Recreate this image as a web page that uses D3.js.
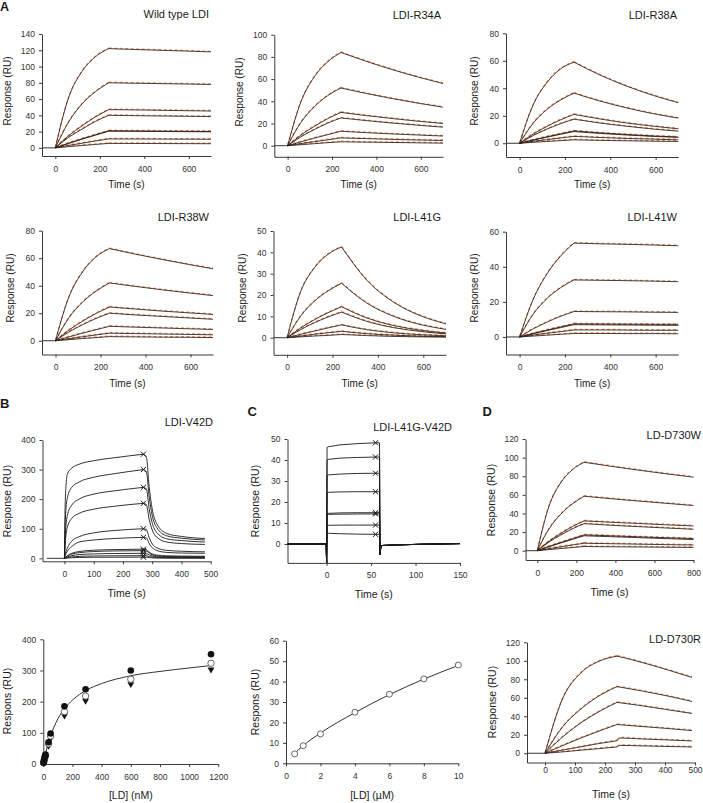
<!DOCTYPE html>
<html>
<head>
<meta charset="utf-8">
<script src="https://cdn.jsdelivr.net/npm/d3@7"></script>
<style>
  body { margin: 0; background: #fff; }
</style>
</head>
<body>
<svg id="fig" width="703" height="803"></svg>
<script>
// ---------- data ----------
// sensorgram time points (s); association up to index `split`, dissociation after
const timeA = [0, 60, 120, 180, 240, 350, 470, 590, 700];
const timeD730W = [0, 60, 120, 180, 240, 380, 520, 660, 800];
const timeD730R = [0, 60, 120, 180, 240, 250, 320, 400, 490];
const timeV42D = [0, 3, 10, 25, 50, 100, 170, 270, 280, 290, 300, 315, 350, 400, 480];
const timeL41GV42D = [-44, -0.5, 0, 0.5, 2, 15, 35, 55, 59.5, 60, 61, 63, 80, 110, 150];

// responses (RU), one row per LD concentration
const wtLDI = [
  [0, 62, 94, 112, 122, 121, 120, 119, 118],
  [0, 32, 54, 69, 80, 79.5, 79, 78.5, 78],
  [0, 15, 27, 38, 47, 46.7, 46.2, 45.7, 45.3],
  [0, 13, 23, 32.5, 40, 39.6, 39.2, 38.8, 38.5],
  [0, 5.7, 11, 16, 21, 20.8, 20.6, 20.4, 20.2],
  [0, 5.5, 10.7, 15.6, 20.5, 20.3, 20.1, 19.9, 19.7],
  [0, 3, 5.7, 8.4, 11, 10.9, 10.8, 10.7, 10.6],
  [0, 1.5, 2.9, 4.2, 5.5, 5.4, 5.3, 5.2, 5.1]
];
const ldiR34A = [
  [0, 39.5, 62, 75.5, 84, 76.3, 68.6, 61.7, 56],
  [0, 21, 35, 45, 52, 47.2, 42.5, 38.2, 34.7],
  [0, 9.6, 17.4, 24.3, 30, 27.2, 24.5, 22, 20],
  [0, 8, 14.5, 20.3, 25, 22.7, 20.4, 18.4, 16.7],
  [0, 3.5, 6.8, 9.9, 13, 11.8, 10.6, 9.6, 8.7],
  [0, 1.9, 3.6, 5.3, 7, 6.4, 5.7, 5.1, 4.7],
  [0, 0.9, 1.8, 2.7, 3.5, 3.2, 2.9, 2.6, 2.3]
];
const ldiR38A = [
  [0, 28, 44, 54, 59, 50, 41.7, 34.8, 29.5],
  [0, 14.6, 24.5, 31.4, 36.5, 30.9, 25.8, 21.5, 18.3],
  [0, 6.7, 12.2, 17, 21, 17.8, 14.8, 12.4, 10.5],
  [0, 5.6, 10.2, 14.2, 17.5, 14.8, 12.4, 10.3, 8.8],
  [0, 2.4, 4.7, 6.8, 9, 7.6, 6.4, 5.3, 4.5],
  [0, 2.3, 4.4, 6.5, 8.5, 7.2, 6, 5, 4.3],
  [0, 1.4, 2.6, 3.8, 5, 4.2, 3.5, 3, 2.5],
  [0, 0.7, 1.3, 1.9, 2.5, 2.1, 1.8, 1.5, 1.3]
];
const ldiR38W = [
  [0, 32, 50, 61, 67, 63.1, 59.2, 55.5, 52.3],
  [0, 16.8, 28, 36, 42, 39.6, 37.1, 34.8, 32.8],
  [0, 7.8, 14.2, 19.8, 24.5, 23.1, 21.6, 20.3, 19.1],
  [0, 6.4, 11.6, 16.2, 20, 18.8, 17.7, 16.6, 15.6],
  [0, 2.8, 5.5, 8, 10.5, 9.9, 9.3, 8.7, 8.2],
  [0, 1.5, 2.9, 4.2, 5.5, 5.2, 4.9, 4.6, 4.3],
  [0, 0.8, 1.6, 2.3, 3, 2.8, 2.6, 2.5, 2.3]
];
const ldiL41G = [
  [0, 21.7, 32.7, 39.1, 42.5, 27.1, 16.6, 10.2, 6.5],
  [0, 10.2, 17.1, 21.9, 25.5, 16.3, 10, 6.1, 3.9],
  [0, 4.6, 8.4, 11.7, 14.5, 9.3, 5.7, 3.5, 2.2],
  [0, 3.8, 7, 9.7, 12, 7.7, 4.7, 2.9, 1.8],
  [0, 1.6, 3.1, 4.6, 6, 3.8, 2.3, 1.4, 0.9],
  [0, 0.8, 1.6, 2.3, 3, 1.9, 1.2, 0.7, 0.5],
  [0, 0.4, 0.8, 1.1, 1.5, 1, 0.6, 0.4, 0.25]
];
const ldiL41W = [
  [0, 21.4, 35.8, 46, 53.5, 53.1, 52.8, 52.4, 52],
  [0, 13, 21.8, 28, 32.5, 32.3, 32.1, 31.8, 31.5],
  [0, 4.6, 8.4, 11.7, 14.5, 14.4, 14.3, 14.1, 14],
  [0, 2, 3.9, 5.7, 7.5, 7.4, 7.3, 7.2, 7.2],
  [0, 1.9, 3.6, 5.3, 7, 6.9, 6.8, 6.7, 6.6],
  [0, 1.1, 2.1, 3, 4, 4, 3.9, 3.8, 3.8],
  [0, 0.5, 1, 1.5, 2, 2, 1.9, 1.9, 1.8]
];
const ldiV42D = [
  [0, 200, 285, 305, 318, 330, 340, 352, 343, 238, 167, 118, 84, 74, 67],
  [0, 130, 205, 240, 258, 274, 286, 300, 293, 205, 145, 105, 76, 68, 62],
  [0, 80, 145, 180, 200, 217, 228, 240, 235, 166, 120, 88, 66, 60, 55],
  [0, 55, 105, 135, 152, 166, 176, 186, 182, 130, 96, 72, 55, 50, 47],
  [0, 15, 35, 58, 73, 86, 94, 100, 98, 69, 49, 36, 27, 24, 22],
  [0, 10, 24, 40, 55, 62, 67, 71, 69, 49, 36, 27, 20, 18, 17],
  [0, 3, 9, 17, 23, 27.5, 29.5, 31, 30, 21, 15, 11, 8.4, 7.6, 7],
  [0, 2.5, 7, 14, 19, 23, 25, 26, 25, 18, 12, 9, 6.3, 5.5, 5],
  [0, 1.5, 4.5, 9, 12.5, 15, 16.3, 17, 16.6, 11.4, 7.9, 5.5, 3.8, 3.4, 3],
  [0, 0.8, 2.4, 4.8, 6.6, 8, 8.6, 9, 8.8, 6, 4.1, 2.9, 2, 1.7, 1.5],
  [0, 0.4, 1.1, 2.1, 3, 3.6, 3.9, 4, 3.9, 2.6, 1.7, 1.1, 0.7, 0.6, 0.5]
];
const ldiL41GV42D = [
  [0, 0, -9, 46, 46.3, 47.2, 47.8, 48.2, 48.2, -5.2, -1.2, -0.7, -0.4, -0.1, 0.2],
  [0, 0, -9, 40, 40.3, 40.9, 41.2, 41.4, 41.4, -5.2, -1.2, -0.7, -0.4, -0.1, 0.2],
  [0, 0, -9, 32.6, 32.9, 33.3, 33.6, 33.7, 33.7, -5.2, -1.2, -0.7, -0.4, -0.1, 0.2],
  [0, 0, -9, 24.4, 24.6, 24.8, 24.9, 24.9, 24.9, -5.2, -1.2, -0.7, -0.4, -0.1, 0.2],
  [0, 0, -9, 14.4, 14.6, 14.8, 14.9, 14.9, 14.9, -5.2, -1.2, -0.7, -0.4, -0.1, 0.2],
  [0, 0, -9, 14, 14.1, 14.2, 14.3, 14.3, 14.3, -5.2, -1.2, -0.7, -0.4, -0.1, 0.2],
  [0, 0, -9, 8.8, 8.9, 9, 9, 9, 9, -5.2, -1.2, -0.7, -0.4, -0.1, 0.2],
  [0, 0, -9, 5.2, 5.1, 4.9, 4.7, 4.6, 4.6, -5.2, -1.2, -0.7, -0.4, -0.1, 0.2]
];
const ldD730W = [
  [0, 48, 73, 87, 95, 90.6, 86.5, 82.6, 79],
  [0, 23.4, 39.2, 50.3, 58.5, 55.8, 53.3, 50.9, 48.5],
  [0, 10.2, 18.6, 25.9, 32, 30.5, 29.2, 27.8, 26.6],
  [0, 9.3, 16.8, 23.5, 29, 27.3, 25.8, 24.4, 23],
  [0, 4.6, 8.8, 12.9, 17, 16, 14.9, 13.9, 13],
  [0, 4.3, 8.3, 12.2, 16, 15, 14, 13, 12],
  [0, 2.2, 4.2, 6.1, 8, 7.5, 7, 6.5, 6.1],
  [0, 1.2, 2.3, 3.4, 4.5, 4.2, 4, 3.7, 3.5]
];
const ldD730R = [
  [0, 60, 87, 99.5, 105, 104.3, 98.5, 91, 82],
  [0, 29, 48, 62, 72, 71.5, 67.5, 62.5, 56],
  [0, 18, 33, 45, 55, 54.6, 51.5, 47.5, 43],
  [0, 8.5, 16.5, 24, 31, 30.8, 29, 27, 24.5],
  [0, 3.5, 7, 10.5, 13.5, 16.5, 15.5, 14.5, 13.3],
  [0, 1.5, 3.3, 5, 6.8, 8.5, 8, 7.4, 6.8]
];

// steady-state binding (panels B and C, bottom)
const ldConcNM = [1150, 600, 290, 145, 50, 36, 15, 12, 8, 4, 2];
const isoFilled = [352, 300, 240, 185, 98, 70, 30, 26, 17, 9, 4];
const isoOpen = [323, 272, 218, 168, 90, 65, 27, 23, 15, 8, 3.5];
const isoTriangle = [303, 256, 203, 155, 82, 58, 24, 20, 13, 7, 3];
const isoFitConc = [0, 10, 25, 50, 100, 150, 200, 300, 400, 600, 800, 1000, 1150];
const isoFitResp = [0, 22, 52, 90, 145, 180, 205, 238, 258, 283, 297, 308, 316];

const ldConcUM = [0.5, 1, 2, 4, 6, 8, 10];
const respL41GV42D = [4.6, 8.6, 14.4, 25, 33.8, 41.3, 48.1];
const fitL41GV42D = [4.9, 8.7, 14.8, 24.8, 33.6, 41.2, 47.9];

// tick labels
const ticks0to600 = [0, 200, 400, 600];
const ticks0to800 = [0, 200, 400, 600, 800];
const ticks0to500 = [0, 100, 200, 300, 400, 500];
const ticks0to150 = [0, 50, 100, 150];
const ticks0to1200 = [0, 200, 400, 600, 800, 1000, 1200];
const ticks0to10 = [0, 2, 4, 6, 8, 10];
const ticksRU140 = [0, 20, 40, 60, 80, 100, 120, 140];
const ticksRU120 = [0, 20, 40, 60, 80, 100, 120];
const ticksRU100 = [0, 20, 40, 60, 80, 100];
const ticksRU80 = [0, 20, 40, 60, 80];
const ticksRU60 = [0, 20, 40, 60];
const ticksRU50 = [0, 10, 20, 30, 40, 50];
const ticksRU400 = [0, 100, 200, 300, 400];
const ticksRUC60 = [0, 10, 20, 30, 40, 50, 60];

// ---------- drawing ----------
const FONT = '"Liberation Sans", Arial, Helvetica, sans-serif';
const svg = d3.select("#fig");
svg.append("rect").attr("width", 703).attr("height", 803).attr("fill", "#fff");

function text(x, y, str, opts = {}) {
  const t = svg.append("text")
    .attr("x", x).attr("y", y)
    .attr("font-family", FONT)
    .attr("font-size", opts.size || 11)
    .attr("fill", "#1a1a1a")
    .attr("text-anchor", opts.anchor || "start")
    .text(str);
  if (opts.bold) t.attr("font-weight", "bold");
  return t;
}

function frame(p) {
  const x = d3.scaleLinear().domain(p.xd).range(p.xr);
  const y = d3.scaleLinear().domain(p.yd).range(p.yr);
  const g = svg.append("g");

  const xa = g.append("g")
    .attr("transform", `translate(0,${p.yr[0]})`)
    .call(d3.axisBottom(x).tickValues(p.xt).tickFormat(d3.format("d"))
      .tickSize(3).tickSizeOuter(0)
      .tickPadding(p.xpad !== undefined ? p.xpad : 6.5));
  const ya = g.append("g")
    .attr("transform", `translate(${p.xr[0]},0)`)
    .call(d3.axisLeft(y).tickValues(p.yt).tickFormat(d3.format("d"))
      .tickSize(3).tickSizeOuter(0).tickPadding(4));

  [xa, ya].forEach(a => {
    a.select(".domain").attr("stroke", "#3a3a3a").attr("stroke-width", 1);
    a.selectAll(".tick line").attr("stroke", "#3a3a3a");
    a.selectAll(".tick text")
      .attr("font-family", FONT).attr("font-size", 8.5).attr("fill", "#333");
  });

  if (p.title) text(p.title[1], p.title[2], p.title[0], { anchor: "end", size: 11 });
  text((p.xr[0] + p.xr[1]) / 2, p.xlabY, p.xlab || "Time (s)", { anchor: "middle", size: p.labSize || 10.5 });
  text(0, 0, p.ylab || "Response (RU)", { anchor: "middle", size: p.labSize || 10.5 })
    .attr("dy", "0.35em")
    .attr("transform", `translate(${p.ylabX},${p.ylabY}) rotate(-90)`);

  const plot = g.append("g");
  return { x, y, plot };
}

// sensorgram with fitted curves (black) over measured data (orange dashes)
function sensorgram(p) {
  const { x, y, plot } = frame(p);
  const smooth = d3.line().x(d => x(d[0])).y(d => y(d[1])).curve(d3.curveMonotoneX);
  const straight = d3.line().x(d => x(d[0])).y(d => y(d[1]));

  const pathFor = vals => {
    const pts = p.times.map((t, i) => [t, vals[i]]);
    if (p.linear) return straight(pts);
    return smooth(pts.slice(0, p.split + 1)) + smooth(pts.slice(p.split));
  };

  if (p.pre !== undefined) {
    plot.append("path")
      .attr("d", straight([[p.pre, 0], [0, 0]]))
      .attr("fill", "none").attr("stroke", "#333").attr("stroke-width", 1);
  }

  if (p.measured) {
    plot.append("g").attr("transform", "translate(0,-0.6)")
      .selectAll("path").data(p.curves).join("path")
      .attr("d", pathFor)
      .attr("fill", "none")
      .attr("stroke", "#e68d58")
      .attr("stroke-width", 1.2)
      .attr("stroke-dasharray", "3,2.5");
  }

  plot.append("g").selectAll("path").data(p.curves).join("path")
    .attr("d", pathFor)
    .attr("fill", "none")
    .attr("stroke", p.measured ? "#2b1e1a" : "#1a1a1a")
    .attr("stroke-width", p.measured ? 0.85 : 0.9);

  if (p.cross !== undefined) {
    plot.append("g").selectAll("path").data(p.curves).join("path")
      .attr("transform", d => `translate(${x(p.times[p.cross])},${y(d[p.cross])})`)
      .attr("d", "M-2.6,-2.6L2.6,2.6M-2.6,2.6L2.6,-2.6")
      .attr("stroke", "#1a1a1a").attr("stroke-width", 1).attr("fill", "none");
  }
}

// panel letters
text(0, 10.5, "A", { bold: true, size: 12.5 });
text(0, 408, "B", { bold: true, size: 13 });
text(247.5, 416, "C", { bold: true, size: 13 });
text(482.5, 416, "D", { bold: true, size: 13 });

// row 1
sensorgram({ title: ["Wild type LDI", 209, 18], curves: wtLDI, times: timeA, split: 4, measured: true, pre: -60,
  xr: [42, 211], yr: [156, 34], xd: [-60, 700], yd: [-10, 140], xt: ticks0to600, yt: ticksRU140,
  xlabY: 188, ylabX: 7.5, ylabY: 91, labSize: 10 });
sensorgram({ title: ["LDI-R34A", 441, 19], curves: ldiR34A, times: timeA, split: 4, measured: true, pre: -60,
  xr: [274.3, 443], yr: [156.8, 34.7], xd: [-60, 700], yd: [-10, 100], xt: ticks0to600, yt: ticksRU100,
  xlabY: 188, ylabX: 239, ylabY: 92, labSize: 10 });
sensorgram({ title: ["LDI-R38A", 677, 19], curves: ldiR38A, times: timeA, split: 4, measured: true, pre: -60,
  xr: [506, 678.3], yr: [157, 33.3], xd: [-60, 700], yd: [-10, 80], xt: ticks0to600, yt: ticksRU80,
  xlabY: 188, ylabX: 474, ylabY: 91, labSize: 10 });

// row 2
sensorgram({ title: ["LDI-R38W", 209, 221], curves: ldiR38W, times: timeA, split: 4, measured: true, pre: -60,
  xr: [42, 213], yr: [354.5, 230.7], xd: [-60, 700], yd: [-10, 80], xt: ticks0to600, yt: ticksRU80,
  xlabY: 387, ylabX: 10, ylabY: 288, labSize: 10 });
sensorgram({ title: ["LDI-L41G", 441, 221], curves: ldiL41G, times: timeA, split: 4, measured: true, pre: -60,
  xr: [273.5, 446], yr: [354.8, 231], xd: [-60, 700], yd: [-8, 50], xt: ticks0to600, yt: ticksRU50,
  xlabY: 387, ylabX: 242.5, ylabY: 288, labSize: 10 });
sensorgram({ title: ["LDI-L41W", 677, 221], curves: ldiL41W, times: timeA, split: 4, measured: true, pre: -60,
  xr: [506, 678.3], yr: [354.5, 231.7], xd: [-60, 700], yd: [-10, 60], xt: ticks0to600, yt: ticksRU60,
  xlabY: 387, ylabX: 474.5, ylabY: 288, labSize: 10 });

// row 3
sensorgram({ title: ["LDI-V42D", 213, 425.5], curves: ldiV42D, times: timeV42D, split: 7, cross: 7, pre: -60,
  xr: [42.5, 210.7], yr: [561.3, 440], xd: [-75, 500], yd: [-10, 400], xt: ticks0to500, yt: ticksRU400,
  xlabY: 597, ylabX: 7.5, ylabY: 501 });
sensorgram({ title: ["LDI-L41G-V42D", 452, 430.5], curves: ldiL41GV42D, times: timeL41GV42D, linear: true, cross: 7,
  xr: [287.5, 460], yr: [562.9, 439], xd: [-44, 150], yd: [-9, 50], xt: ticks0to150, yt: ticksRU50,
  xlabY: 598, ylabX: 255, ylabY: 501 });
sensorgram({ title: ["LD-D730W", 701, 439], curves: ldD730W, times: timeD730W, split: 4, measured: true, pre: -60,
  xr: [525.6, 693.5], yr: [560, 439], xd: [-60, 800], yd: [-10, 120], xt: ticks0to800, yt: ticksRU120,
  xlabY: 596, ylabX: 491.3, ylabY: 500 });

// row 4: binding isotherm for LDI-V42D
(function () {
  const { x, y, plot } = frame({ xr: [43.3, 218.3], yr: [764, 639.3], xd: [0, 1200], yd: [0, 400],
    xt: ticks0to1200, yt: ticksRU400, xlab: "[LD] (nM)", ylab: "Respons (RU)",
    xlabY: 799, ylabX: 7, ylabY: 701 });
  const fit = isoFitConc.map((c, i) => [c, isoFitResp[i]]);
  plot.append("path")
    .attr("d", d3.line().x(d => x(d[0])).y(d => y(d[1])).curve(d3.curveMonotoneX)(fit))
    .attr("fill", "none").attr("stroke", "#333").attr("stroke-width", 1);
  const tri = d3.symbol(d3.symbolTriangle, 20)();
  plot.append("g").selectAll("path").data(ldConcNM).join("path")
    .attr("transform", (c, i) => `translate(${x(c)},${y(isoTriangle[i])}) rotate(180)`)
    .attr("d", tri).attr("fill", "#111");
  plot.append("g").selectAll("circle").data(ldConcNM).join("circle")
    .attr("cx", c => x(c)).attr("cy", (c, i) => y(isoOpen[i])).attr("r", 3.2)
    .attr("fill", "#fff").attr("stroke", "#555").attr("stroke-width", 0.9);
  plot.append("g").selectAll("circle").data(ldConcNM).join("circle")
    .attr("cx", c => x(c)).attr("cy", (c, i) => y(isoFilled[i])).attr("r", 3.3)
    .attr("fill", "#111");
})();

// row 4: binding for LDI-L41G-V42D
(function () {
  const { x, y, plot } = frame({ xr: [286, 458.3], yr: [763.3, 640.7], xd: [0, 10], yd: [0, 60],
    xt: ticks0to10, yt: ticksRUC60, xlab: "[LD] (\u00b5M)", ylab: "Respons (RU)",
    xlabY: 799, ylabX: 255, ylabY: 702 });
  const fit = ldConcUM.map((c, i) => [c, fitL41GV42D[i]]);
  plot.append("path")
    .attr("d", d3.line().x(d => x(d[0])).y(d => y(d[1])).curve(d3.curveMonotoneX)(fit))
    .attr("fill", "none").attr("stroke", "#333").attr("stroke-width", 1);
  plot.append("g").selectAll("circle").data(ldConcUM).join("circle")
    .attr("cx", c => x(c)).attr("cy", (c, i) => y(respL41GV42D[i])).attr("r", 3)
    .attr("fill", "#fff").attr("stroke", "#555").attr("stroke-width", 0.9);
})();

// row 4: LD-D730R
sensorgram({ title: ["LD-D730R", 701, 643], curves: ldD730R, times: timeD730R, split: 4, measured: true, pre: -60,
  xr: [527, 695], yr: [762.5, 642.3], xd: [-60, 500], yd: [-10, 120], xt: ticks0to500, yt: ticksRU120, xpad: 1.5,
  xlabY: 798, ylabX: 492, ylabY: 702 });
</script>
</body>
</html>
